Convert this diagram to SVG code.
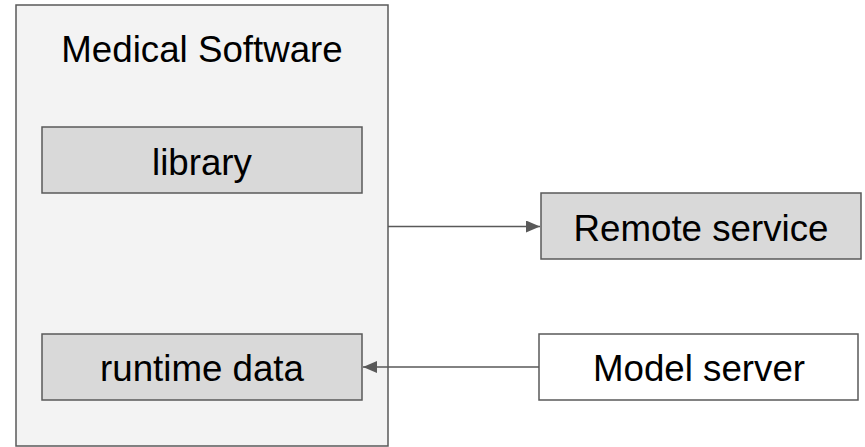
<svg xmlns="http://www.w3.org/2000/svg" width="865" height="447" viewBox="0 0 865 447">
  <style>
    .box { stroke: #595959; stroke-width: 1.5; }
    .outer { fill: #f3f3f3; }
    .inner { fill: #d9d9d9; }
    .plain { fill: #ffffff; }
    .label { font-family: "Liberation Sans", Arial, sans-serif; font-size: 36.7px; fill: #000000; text-anchor: middle; }
    .edge { stroke: #595959; stroke-width: 1.5; fill: none; }
  </style>
  <defs>
    <marker id="arrow" viewBox="0 0 14 12" refX="14" refY="6" markerWidth="14" markerHeight="12" markerUnits="userSpaceOnUse" orient="auto">
      <path d="M0,0 L14,6 L0,12 z" fill="#595959"/>
    </marker>
  </defs>
  <rect width="865" height="447" fill="#ffffff"/>

  <g id="medical-software">
    <rect class="box outer" x="16" y="5" width="372" height="441"/>
    <text class="label" x="202" y="62">Medical Software</text>
  </g>

  <g id="library">
    <rect class="box inner" x="42" y="127" width="320" height="66"/>
    <text class="label" x="202" y="175">library</text>
  </g>

  <g id="runtime-data">
    <rect class="box inner" x="42" y="334" width="320" height="66"/>
    <text class="label" x="202" y="381">runtime data</text>
  </g>

  <g id="remote-service">
    <rect class="box inner" x="541" y="193" width="320" height="66"/>
    <text class="label" x="701" y="241">Remote service</text>
  </g>

  <g id="model-server">
    <rect class="box plain" x="539" y="334" width="319" height="66"/>
    <text class="label" x="699" y="381">Model server</text>
  </g>

  <g id="connectors">
    <line class="edge" x1="388" y1="226.5" x2="540" y2="226.5" marker-end="url(#arrow)"/>
    <line class="edge" x1="539" y1="367" x2="363" y2="367" marker-end="url(#arrow)"/>
  </g>
</svg>
